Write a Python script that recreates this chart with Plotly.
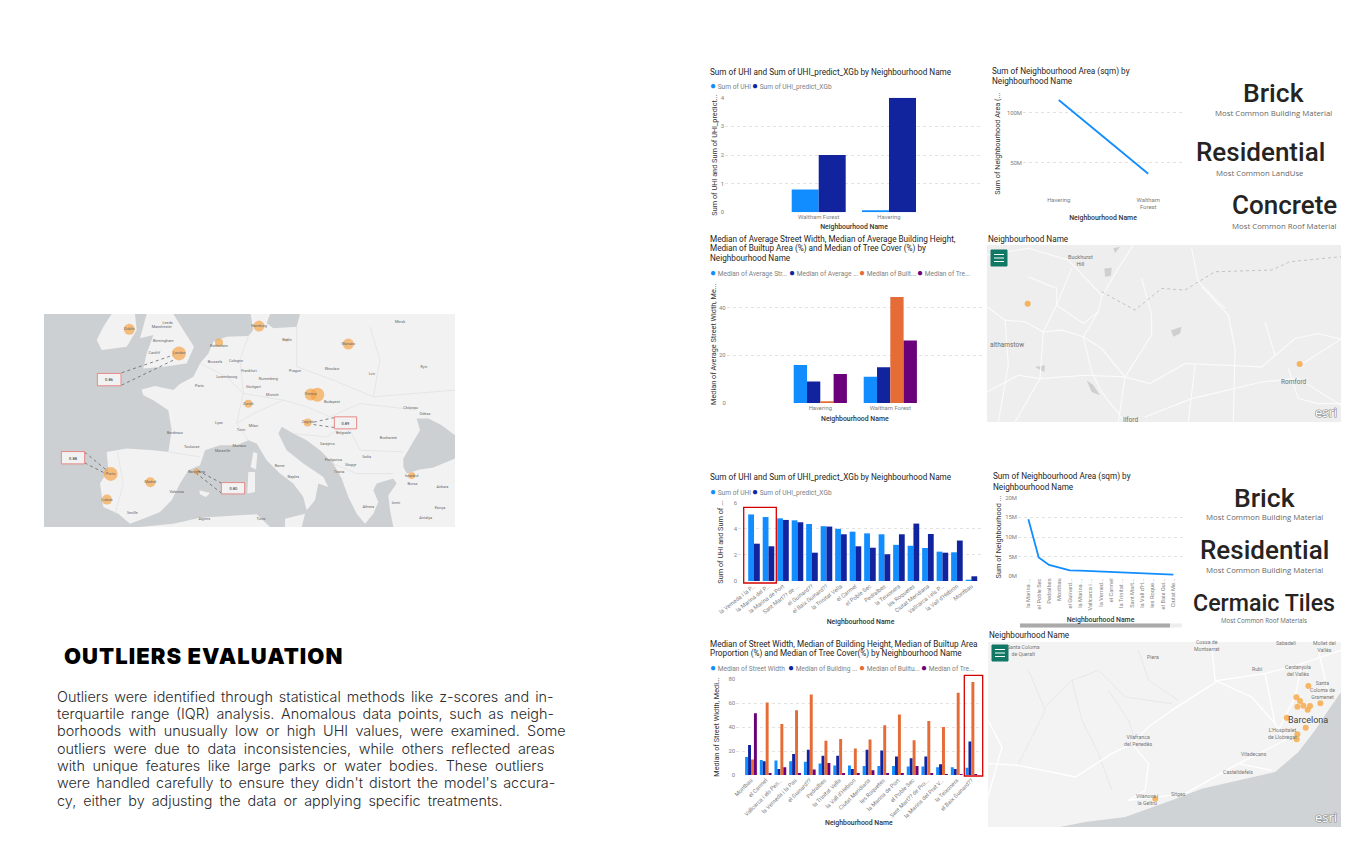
import plotly.graph_objects as go

W, H = 1362, 841
BLUE, NAVY, ORANGE, PURPLE = "#118DFF", "#12239E", "#E66C37", "#6B007B"
DIN = "Roboto, Arial, sans-serif"

# ---------- data ----------
lon_cats = ["Waltham Forest", "Havering"]
lon_uhi = [0.8, 0.07]
lon_pred = [2.0, 4.0]

area_cats = ["Havering", "Waltham<br>Forest"]
area_vals = [112.7e6, 39e6]

med_cats = ["Havering", "Waltham Forest"]
med_street = [16.0, 11.0]
med_height = [9.0, 15.0]
med_built = [0.3, 44.5]
med_tree = [12.2, 26.2]

bcn_cats = ["la Verneda i la P...", "la Marina del P...", "la Marina de Port", "Sant Mart?? de ...",
            "el Guinard??", "el Baix Guinard??", "la Trinitat Vella", "el Carmel", "el Poble Sec",
            "Pedralbes", "la Teixonera", "les Roquetes", "Ciutat Meridiana", "Vallcarca i els P...",
            "la Vall d'Hebron", "Montbau"]
bcn_uhi = [5.1, 4.9, 4.8, 4.65, 4.37, 4.2, 4.0, 3.78, 3.65, 3.58, 2.77, 2.7, 2.53, 2.25, 2.2, 0.08]
bcn_pred = [2.86, 2.66, 4.68, 4.5, 2.17, 4.17, 3.58, 2.66, 2.55, 2.05, 3.58, 4.4, 3.6, 2.17, 3.1, 0.36]

bcn_area_cats = ["la Marina ...", "el Poble Sec", "Pedralbes", "Montbau", "el Guinard...", "la Marina ...\u200b",
                 "Vallcarca i ...", "la Verned...", "el Carmel", "la Trinitat ...", "Sant Mart...",
                 "la Vall d'H...", "les Roque...", "el Baix Gui...", "Ciutat Me..."]
bcn_area = [14.5e6, 4.8e6, 2.9e6, 2.2e6, 1.5e6, 1.45e6, 1.35e6, 1.25e6, 1.1e6, 0.95e6, 0.9e6, 0.85e6, 0.75e6, 0.65e6, 0.45e6]

bm_cats = ["Montbau", "el Carmel", "Vallcarca i els Pen...", "la Verneda i la Pau", "el Guinard??", "Pedralbes",
           "la Trinitat Vella", "la Vall d'Hebron", "Ciutat Meridiana", "les Roquetes", "la Marina de Port",
           "el Poble Sec", "Sant Mart?? de Pro...", "la Marina del Prat V...", "la Teixonera", "el Baix Guinard??"]
bm_street = [15, 12.5, 12, 11.5, 11, 9.5, 8, 8, 7.5, 7.5, 7.5, 7, 7, 6.5, 6.5, 6]
bm_height = [25, 11.5, 5, 17.5, 21, 16, 16, 5, 21, 20.5, 15.5, 14, 15.5, 9, 5, 28]
bm_built = [13, 60.5, 42.5, 54, 67, 28.5, 30, 22, 29.5, 41.5, 50.5, 29, 45, 40, 68.5, 77.5]
bm_tree = [51.5, 1, 6.5, 1, 4.5, 10, 1, 1.5, 4, 1.5, 1, 7.5, 1, 0.5, 0.5, 0.7]

eu_bubble_x = [268, 417, 537, 657, 741, 925, 812, 832, 625, 803, 212, 331, 201, 470, 1115]
eu_bubble_y = [58, 130, 97, 48, 90, 102, 253, 254, 281, 337, 491, 516, 568, 484, 496]
eu_bubble_size = [11, 14, 8, 11, 3, 11, 12, 14, 8, 8, 14, 10, 10, 6, 7]

lon_map_x = [128, 944]
lon_map_y = [216, 396]
bcn_map_x = [970, 934, 945, 937, 955, 968, 975, 1006, 905, 962, 937, 935, 510]
bcn_map_y = [167, 201, 212, 229, 226, 238, 227, 219, 262, 292, 312, 327, 505]

eu_cities = [(268, 58, "Dublin"), (417, 130, "London"), (537, 107, "Rotterdam"), (657, 48, "Hamburg"), (741, 90, "Berlin"),
             (925, 102, "Warsaw"), (812, 253, "Vienna"), (625, 281, "Zurich"), (803, 337, "Zagreb"), (212, 491, "Porto"),
             (331, 516, "Madrid"), (201, 568, "Lisbon"), (470, 484, "Barcelona"), (1115, 496, "Istanbul"),
             (365, 52, "Manchester"), (370, 92, "Birmingham"), (343, 130, "Cardiff"), (383, 40, "Leeds"), (1080, 35, "Minsk"),
             (478, 228, "Paris"), (525, 155, "Brussels"), (588, 152, "Cologne"), (627, 182, "Frankfurt"), (560, 202, "Luxembourg"),
             (640, 232, "Stuttgart"), (697, 255, "Munich"), (685, 207, "Nuremberg"), (765, 184, "Prague"), (876, 177, "Wroclaw"),
             (876, 277, "Budapest"), (537, 338, "Lyon"), (640, 349, "Milan"), (603, 361, "Turin"), (405, 370, "Bordeaux"),
             (455, 411, "Toulouse"), (598, 407, "Monaco"), (548, 422, "Marseille"), (719, 467, "Rome"), (910, 370, "Belgrade"),
             (862, 403, "Sarajevo"), (980, 440, "Sofia"), (1045, 383, "Bucharest"), (1155, 313, "Odesa"), (1112, 295, "Chisinau"),
             (996, 192, "Lviv"), (1152, 170, "Kyiv"), (880, 450, "Podgorica"), (932, 464, "Skopje"), (897, 484, "Tirana"),
             (985, 590, "Athens"), (760, 500, "Naples"), (410, 544, "Valencia"), (277, 607, "Seville"), (493, 626, "Algiers"),
             (663, 625, "Tunis"), (1200, 592, "Konya"), (1207, 530, "Ankara"), (1117, 521, "Bursa"), (1068, 577, "Izmir"), (1157, 622, "Antalya")]

eu_land = {
    "main": [(305, 238), (345, 228), (400, 240), (420, 222), (460, 200), (480, 160), (505, 130), (520, 95), (560, 80), (625, 78),
             (640, 60), (632, 12), (690, 12), (680, 40), (700, 55), (770, 50), (780, 12), (1245, 12), (1245, 375), (1205, 345),
             (1165, 325), (1130, 325), (1140, 360), (1110, 410), (1090, 445), (1090, 470), (1100, 490), (1140, 478), (1180, 472),
             (1245, 445), (1245, 650), (1060, 650), (1050, 600), (1045, 555), (1070, 520), (1060, 505), (1010, 520), (1000, 540),
             (1015, 575), (1000, 610), (975, 640), (950, 610), (925, 560), (905, 505), (880, 460), (840, 420), (800, 390), (760, 370),
             (725, 350), (715, 370), (740, 420), (790, 460), (850, 500), (865, 530), (835, 520), (825, 570), (800, 600), (790, 560),
             (760, 520), (720, 490), (680, 450), (650, 400), (625, 390), (590, 405), (540, 405), (495, 420), (480, 465), (445, 480),
             (420, 520), (395, 570), (360, 605), (310, 625), (270, 640), (235, 610), (190, 590), (180, 520), (205, 480), (200, 425),
             (260, 415), (340, 420), (385, 425), (395, 360), (385, 300), (340, 270), (310, 255)],
    "britain": [(320, 12), (300, 85), (340, 75), (320, 130), (310, 175), (370, 170), (440, 160), (462, 110), (430, 60), (400, 12)],
    "ireland": [(215, 12), (285, 12), (290, 60), (260, 110), (185, 120), (170, 90), (190, 50)],
    "sicily": [(735, 625), (795, 610), (785, 650), (735, 650)],
    "sardinia": [(625, 485), (645, 485), (645, 545), (622, 550)],
    "corsica": [(640, 425), (652, 430), (648, 478), (632, 470)],
    "africa": [(300, 650), (400, 640), (480, 622), (650, 612), (690, 650)],
    "balearic": [(478, 540), (510, 548), (498, 560), (480, 552)],
}
eu_borders = [[(480, 160), (560, 200), (610, 250), (590, 340), (625, 390)], [(625, 78), (600, 150), (610, 250), (730, 270), (800, 290)],
              [(770, 50), (770, 170), (880, 210), (1000, 260), (1020, 150), (990, 50)], [(385, 425), (480, 440)], [(232, 425), (250, 520), (225, 610)],
              [(730, 270), (640, 310), (590, 340)], [(800, 290), (870, 320), (960, 280), (1130, 300)], [(760, 370), (860, 380), (920, 340)],
              [(920, 340), (960, 420), (1090, 425)], [(880, 460), (950, 490), (1060, 490)], [(1245, 240), (1000, 260)]]
eu_boxes = [(172, 190, 243, 227, "0.86", 207, 209), (883, 320, 950, 356, "0.89", 916, 341), (64, 424, 134, 461, "0.88", 99, 446), (544, 517, 614, 551, "0.80", 580, 536)]
eu_links = [[(245, 188), (400, 135)], [(245, 225), (405, 148)], [(883, 322), (812, 338)], [(883, 352), (812, 342)],
            [(134, 426), (200, 480)], [(134, 458), (197, 490)], [(545, 519), (475, 482)], [(545, 549), (470, 490)]]

lon_roads = [[(6, 225), (60, 265), (120, 270), (175, 300), (230, 295), (295, 315), (350, 350), (420, 435), (495, 455), (600, 395), (830, 405), (930, 320), (1000, 305), (1068, 322)],
             [(445, 40), (400, 110), (350, 195), (340, 240), (295, 315), (320, 420), (350, 480), (420, 570)],
             [(260, 110), (215, 220), (175, 300), (165, 440), (90, 570)],
             [(6, 70), (130, 50), (250, 85), (350, 190)],
             [(130, 135), (215, 170), (215, 220), (295, 275), (340, 240)],
             [(650, 165), (730, 250), (750, 350), (745, 570)],
             [(6, 480), (100, 430), (165, 440), (300, 430), (420, 435)],
             [(420, 435), (400, 570)],
             [(470, 140), (500, 250), (500, 310), (420, 435)],
             [(620, 50), (640, 150), (720, 230)],
             [(480, 555), (620, 500), (830, 450), (940, 440), (1068, 520)],
             [(910, 410), (940, 500), (1000, 515), (1068, 515)],
             [(945, 400), (1068, 322)],
             [(630, 400), (610, 570)],
             [(60, 265), (70, 400), (40, 570)],
             [(840, 270), (870, 370)]]
lon_border = [(350, 180), (450, 235), (530, 170), (600, 175), (690, 120), (860, 115), (915, 90), (1068, 75)]
lon_lakes = [[(558, 295), (590, 285), (585, 305), (565, 315)], [(358, 110), (380, 108), (378, 132), (360, 135)],
             [(305, 445), (325, 460), (345, 490), (320, 480)], [(150, 405), (180, 400), (178, 420)], [(385, 50), (405, 45), (390, 65)]]
lon_labels = [(285, 85, "Buckhurst<br>Hill", 5.5), (65, 338, "althamstow", 6.5), (928, 450, "Romford", 6.5), (435, 565, "Ilford", 6.5)]

bcn_sea = [(225, 590), (300, 575), (420, 560), (560, 510), (650, 475), (780, 445), (870, 425), (940, 365), (990, 300), (1030, 240), (1068, 185), (1068, 590)]
bcn_roads = [[(8, 400), (100, 405), (270, 440), (380, 370), (440, 340), (490, 290), (560, 240), (700, 150), (840, 130), (950, 100), (1068, 60)],
             [(440, 340), (490, 400), (480, 480), (430, 510), (600, 490)],
             [(680, 50), (690, 150), (800, 200), (870, 280)],
             [(840, 130), (870, 280), (900, 330), (760, 400), (860, 420)],
             [(8, 270), (50, 350), (8, 500)],
             [(600, 490), (760, 400)],
             [(950, 100), (930, 200), (900, 260), (880, 300)],
             [(1000, 60), (1030, 190)]]
bcn_rivers = [[(180, 230), (260, 150), (340, 120), (420, 200), (560, 220)], [(260, 150), (290, 270), (340, 370), (380, 480)],
              [(460, 60), (490, 150), (580, 210)], [(100, 400), (180, 240), (130, 120)], [(370, 180), (430, 270), (450, 330)]]
bcn_labels = [(115, 62, "Santa Coloma<br>de Queralt", 5.2), (505, 82, "Piera", 5.2), (818, 118, "Rubí", 5.2), (938, 120, "Cerdanyola<br>del Vallès", 5.2),
              (1012, 180, "Santa<br>Coloma de<br>Gramenet", 5.2), (893, 310, "L'Hospitalet<br>de Llobregat", 5.2), (460, 332, "Vilafranca<br>del Penedès", 5.2),
              (808, 373, "Viladecans", 5.2), (760, 425, "Castelldefels", 5.2), (580, 491, "Sitges", 5.2), (487, 507, "Vilanova i<br>la Geltrú", 5.2),
              (665, 45, "Cossa de<br>Montserrat", 5.2), (903, 38, "Sabadell", 5.2), (1018, 48, "Mollet del<br>Vallès", 5.2), (970, 270, "Barcelona", 9)]

body_lines = ["Outliers were identified through statistical methods like z-scores and in-",
              "terquartile range (IQR) analysis. Anomalous data points, such as neigh-",
              "borhoods with unusually low or high UHI values, were examined. Some",
              "outliers were due to data inconsistencies, while others reflected areas",
              "with unique features like large parks or water bodies. These outliers",
              "were handled carefully to ensure they didn't distort the model's accura-",
              "cy, either by adjusting the data or applying specific treatments."]
body_y = [696, 713.3, 730.7, 748.3, 765.3, 782.3, 800]
body_word_gap = [1.9, 2.55, 3.3, 3.5, 3.5, 2.0, 3.0]

# ---------- helpers ----------
fig = go.Figure()
layout = {}
annos = []
shapes = []
axis_no = [0]


def px(x):
    return x / W


def py(y):
    return 1 - y / H


def txt(x, y, s, size=8, color="#252423", anchor="left", family=DIN, weight=None):
    f = dict(size=size, color=color, family=family)
    if weight:
        f["weight"] = weight
    if anchor == "left":
        x -= 1.5
    annos.append(dict(x=px(x), y=py(y), xref="paper", yref="paper", text=s, showarrow=False, xanchor=anchor, yanchor="middle", font=f, align=anchor))


def legend(items, y):
    for x, color, label in items:
        txt(x, y, f'<span style="color:{color};font-size:10px">●</span> {label}', size=6.6, color="#808080")


def new_axes(x0, x1, y0, y1):
    axis_no[0] += 1
    n = "" if axis_no[0] == 1 else str(axis_no[0])
    return n, dict(domain=[px(x0), px(x1)], anchor="y" + n), dict(domain=[py(y1), py(y0)], anchor="x" + n)


def chart(x0, x1, y0, y1, xrange, yrange, cats, yvals, ytitle, xtitle, yticktext=None, tickangle=0, stand=(4, 2), tickfont=5.9):
    n, xa, ya = new_axes(x0, x1, y0, y1)
    xa.update(type="category", categoryorder="array", categoryarray=cats, range=xrange, showgrid=False, zeroline=False, showline=False,
              tickangle=tickangle, ticks="", tickfont=dict(size=tickfont, color="#808080", family=DIN),
              title=dict(text=xtitle, font=dict(size=6.9, color="#333333", family=DIN, weight=500), standoff=stand[1]), automargin=False)
    ya.update(range=yrange, tickvals=yvals, ticktext=yticktext, showgrid=True, gridcolor="#E3E3E3", griddash="dot", gridwidth=1, zeroline=False,
              showline=False, ticks="", tickfont=dict(size=5.9, color="#808080", family=DIN),
              title=dict(text=ytitle, font=dict(size=7.3, color="#333333", family=DIN), standoff=stand[0]), automargin=False)
    layout["xaxis" + n] = xa
    layout["yaxis" + n] = ya
    return n


def bars(n, cats, series, width):
    count = len(series)
    for i, (name, color, vals) in enumerate(series):
        fig.add_trace(go.Bar(x=cats, y=vals, name=name, marker=dict(color=color, line=dict(width=0)), width=width,
                             offset=-width * count / 2 + i * width, xaxis="x" + n, yaxis="y" + n, showlegend=False))


def rbox(x0, y0, x1, y1):
    shapes.append(dict(type="rect", xref="paper", yref="paper", x0=px(x0), x1=px(x1), y0=py(y1), y1=py(y0), line=dict(color="#D40000", width=1.3)))


def map_axes(x0, x1, y0, y1, xr, yr, bg):
    n, xa, ya = new_axes(x0, x1, y0, y1)
    xa.update(range=xr, visible=False, fixedrange=True)
    ya.update(range=yr, visible=False, fixedrange=True)
    layout["xaxis" + n] = xa
    layout["yaxis" + n] = ya
    shapes.append(dict(type="rect", xref="paper", yref="paper", x0=px(x0), x1=px(x1), y0=py(y1), y1=py(y0), fillcolor=bg, line=dict(width=0), layer="below"))
    return n


def poly(n, pts, color):
    xs = [p[0] for p in pts] + [pts[0][0]]
    ys = [p[1] for p in pts] + [pts[0][1]]
    fig.add_trace(go.Scatter(x=xs, y=ys, mode="lines", fill="toself", fillcolor=color, line=dict(width=0), hoverinfo="skip", showlegend=False, xaxis="x" + n, yaxis="y" + n))


def pline(n, pts, color, width=1, dash="solid"):
    fig.add_trace(go.Scatter(x=[p[0] for p in pts], y=[p[1] for p in pts], mode="lines", line=dict(color=color, width=width, dash=dash),
                             hoverinfo="skip", showlegend=False, xaxis="x" + n, yaxis="y" + n))


def menu(x, y):
    shapes.append(dict(type="rect", xref="paper", yref="paper", x0=px(x), x1=px(x + 16), y0=py(y + 16), y1=py(y), fillcolor="#117865", line=dict(color="#117865", width=1)))
    for dy in (4.5, 8, 11.5):
        shapes.append(dict(type="line", xref="paper", yref="paper", x0=px(x + 3), x1=px(x + 13), y0=py(y + dy), y1=py(y + dy), line=dict(color="white", width=1)))


def esri(x, y):
    txt(x, y, '<span style="paint-order:stroke;stroke:#8C8C8C;stroke-width:1.2px">esri</span>', size=13, color="#FFFFFF", anchor="center", family="Open Sans")


# ---------- left column ----------
n = map_axes(44, 455, 314, 527, [12, 1245], [650, 12], "#CCD0D2")
for pts in eu_land.values():
    poly(n, pts, "#F2F2F2")
for pts in eu_borders:
    pline(n, pts, "#E2E2E2", 0.8)
fig.add_trace(go.Scatter(x=eu_bubble_x, y=eu_bubble_y, mode="markers", marker=dict(size=eu_bubble_size, color="rgba(247,160,60,0.92)", line=dict(width=0)),
                         hoverinfo="skip", showlegend=False, xaxis="x" + n, yaxis="y" + n))
fig.add_trace(go.Scatter(x=[c[0] for c in eu_cities], y=[c[1] for c in eu_cities], text=[c[2] for c in eu_cities], mode="text",
                         textfont=dict(size=3.8, color="#666666", family=DIN), hoverinfo="skip", showlegend=False, xaxis="x" + n, yaxis="y" + n))
for pts in eu_links:
    pline(n, pts, "#555555", 0.7, "dot")
for bx0, by0, bx1, by1, label, lx, ly in eu_boxes:
    poly(n, [(bx0, by0), (bx1, by0), (bx1, by1), (bx0, by1)], "#F2F2F2")
    pline(n, [(bx0, by0), (bx1, by0), (bx1, by1), (bx0, by1), (bx0, by0)], "#E88888", 1)
fig.add_trace(go.Scatter(x=[b[5] for b in eu_boxes], y=[b[6] for b in eu_boxes], text=[b[4] for b in eu_boxes], mode="text",
                         textfont=dict(size=4, color="#222222", family=DIN), hoverinfo="skip", showlegend=False, xaxis="x" + n, yaxis="y" + n))

txt(63, 656, '<span style="letter-spacing:1.05px">OUTLIERS EVALUATION</span>', size=22, color="#000000", family="Inter, Arial, sans-serif", weight=900)
for line, yy, gap in zip(body_lines, body_y, body_word_gap):
    txt(56, yy, f'<span style="word-spacing:{gap}px">{line}</span>', size=14.4, color="#2B2B2B", family="Inter, Arial, sans-serif", weight=300)

# ---------- chart 1: London UHI ----------
txt(709, 71.7, "Sum of UHI and Sum of UHI_predict_XGb by Neighbourhood Name", size=8.2)
legend([(709, BLUE, "Sum of UHI"), (751.5, NAVY, "Sum of UHI_predict_XGb")], 86)
n = chart(725, 983, 97.7, 212.3, [-1.333, 2.337], [0, 4], lon_cats, [0, 1, 2, 3, 4], "Sum of UHI and Sum of UHI_predict...", "Neighbourhood Name", stand=(2, 4.5))
bars(n, lon_cats, [("Sum of UHI", BLUE, lon_uhi), ("Sum of UHI_predict_XGb", NAVY, lon_pred)], 0.384)

# ---------- chart 2: London area ----------
txt(991.7, 71.7, "Sum of Neighbourhood Area (sqm) by", size=8.2)
txt(991.7, 81.5, "Neighbourhood Name", size=8.2)
n = chart(1023, 1183, 92.7, 194.7, [-0.40, 1.389], [18e6, 120e6], area_cats, [50e6, 100e6], "Sum of Neighbourhood Area (...", "Neighbourhood Name", yticktext=["50M", "100M"], stand=(5, 5.5))
fig.add_trace(go.Scatter(x=area_cats, y=area_vals, mode="lines", line=dict(color=BLUE, width=1.8), showlegend=False, xaxis="x" + n, yaxis="y" + n))

# ---------- KPI cards ----------
for x, y, s, sz, sy, sub, ss in [
    (1273, 92.7, "Brick", 26.5, 113.5, "Most Common Building Material", 7.8),
    (1260, 151.7, "Residential", 26, 172.7, "Most Common LandUse", 7.8),
    (1284, 205, "Concrete", 26, 225.7, "Most Common Roof Material", 7.8),
    (1264, 497, "Brick", 26.5, 517.3, "Most Common Building Material", 7.8),
    (1264, 550, "Residential", 26, 570.3, "Most Common Building Material", 7.8),
    (1263.7, 602.7, "Cermaic Tiles", 23.2, 620.7, "Most Common Roof Materials", 6.2),
]:
    txt(x, y, s, size=sz, color="#252423", anchor="center", weight=500)
    txt(x, sy, sub, size=ss, color="#666666", anchor="center", family="Open Sans")

# ---------- chart 3: London medians ----------
for yy, s in [(239.3, "Median of Average Street Width, Median of Average Building Height,"),
              (248.7, "Median of Builtup Area (%) and Median of Tree Cover (%) by"),
              (258, "Neighbourhood Name")]:
    txt(709, yy, s, size=8.2)
legend([(709, BLUE, "Median of Average Str..."), (788, NAVY, "Median of Average ..."), (859, ORANGE, "Median of Built..."), (917, PURPLE, "Median of Tre...")], 272.3)
n = chart(726.7, 983, 285.3, 403, [-1.337, 2.324], [0, 49.4], med_cats, [0, 20, 40], "Median of Average Street Width, Me...", "Neighbourhood Name", stand=(1, 6))
bars(n, med_cats, [("Street", BLUE, med_street), ("Height", NAVY, med_height), ("Built", ORANGE, med_built), ("Tree", PURPLE, med_tree)], 0.19)

# ---------- map: London ----------
txt(987.6, 238.7, "Neighbourhood Name", size=8.2)
n = map_axes(987, 1341, 245, 422, [6, 1068], [570, 40], "#EEEEEE")
for pts in lon_lakes:
    poly(n, pts, "#CFCFCF")
for pts in lon_roads:
    pline(n, pts, "#FBFBFB", 1.1)
pline(n, lon_border, "#AFAFAF", 0.7, "dot")
fig.add_trace(go.Scatter(x=lon_map_x, y=lon_map_y, mode="markers", marker=dict(size=6, color="#F7B25E", line=dict(width=0)), showlegend=False, hoverinfo="skip", xaxis="x" + n, yaxis="y" + n))
for lx, ly, s, sz in lon_labels:
    txt(985 + lx / 3, 232 + ly / 3, s, size=sz, color="#6E6E6E", anchor="center")
menu(991, 250)
esri(1326, 412)

# ---------- chart 5: Barcelona UHI ----------
txt(709.5, 476.7, "Sum of UHI and Sum of UHI_predict_XGb by Neighbourhood Name", size=8.2)
legend([(709, BLUE, "Sum of UHI"), (751.5, NAVY, "Sum of UHI_predict_XGb")], 491.5)
n = chart(738, 983, 502.7, 581, [-1.104, 15.8], [0, 6], bcn_cats, [0, 2, 4, 6], "Sum of UHI and Sum of ...", "Neighbourhood Name", tickangle=-38, stand=(9, 4.5), tickfont=5.7)
bars(n, bcn_cats, [("Sum of UHI", BLUE, bcn_uhi), ("Sum of UHI_predict_XGb", NAVY, bcn_pred)], 0.40)
rbox(743.7, 507.3, 776.3, 583)

# ---------- chart 6: Barcelona area ----------
txt(992.7, 477, "Sum of Neighbourhood Area (sqm) by", size=8.2)
txt(992.7, 487, "Neighbourhood Name", size=8.2)
n = chart(1018, 1183, 497.7, 576.3, [-1.0, 14.93], [0, 20e6], bcn_area_cats, [0, 5e6, 10e6, 15e6, 20e6], "Sum of Neighbourhood ...", "Neighbourhood Name",
          yticktext=["0M", "5M", "10M", "15M", "20M"], tickangle=-90, tickfont=5.7, stand=(2, 7))
fig.add_trace(go.Scatter(x=bcn_area_cats, y=bcn_area, mode="lines", line=dict(color=BLUE, width=1.8), showlegend=False, xaxis="x" + n, yaxis="y" + n))
shapes.append(dict(type="rect", xref="paper", yref="paper", x0=px(1020), x1=px(1182), y0=py(627.5), y1=py(623.5), fillcolor="#EEEEEE", line=dict(width=0)))
shapes.append(dict(type="rect", xref="paper", yref="paper", x0=px(1020), x1=px(1170), y0=py(627.5), y1=py(623.5), fillcolor="#AAAAAA", line=dict(width=0)))

# ---------- chart 7: Barcelona medians ----------
txt(709.5, 644, "Median of Street Width, Median of Building Height, Median of Builtup Area", size=8.2)
txt(709.5, 653.7, "Proportion (%) and Median of Tree Cover(%) by Neighbourhood Name", size=8.2)
legend([(709, BLUE, "Median of Street Width"), (787, NAVY, "Median of Building ..."), (858.5, ORANGE, "Median of Builtu..."), (920.5, PURPLE, "Median of Tre...")], 667.7)
n = chart(736, 981.7, 679, 775, [-1.02, 15.70], [0, 80], bm_cats, [0, 20, 40, 60, 80], "Median of Street Width, Medi...", "Neighbourhood Name", tickangle=-45, tickfont=5.7, stand=(7, 1))
bars(n, bm_cats, [("Street", BLUE, bm_street), ("Height", NAVY, bm_height), ("Built", ORANGE, bm_built), ("Tree", PURPLE, bm_tree)], 0.2)
rbox(964.3, 675.3, 982.7, 776)

# ---------- map: Barcelona ----------
txt(988, 635, "Neighbourhood Name", size=8.2)
n = map_axes(988, 1341, 642, 827, [8, 1068], [590, 35], "#F3F3F3")
poly(n, bcn_sea, "#CFD3D5")
for pts in bcn_rivers:
    pline(n, pts, "#E2E2E2", 0.7)
for pts in bcn_roads:
    pline(n, pts, "#FFFFFF", 1.3)
fig.add_trace(go.Scatter(x=bcn_map_x, y=bcn_map_y, mode="markers", marker=dict(size=6, color="rgba(246,175,85,0.9)", line=dict(width=0)), showlegend=False, hoverinfo="skip", xaxis="x" + n, yaxis="y" + n))
for lx, ly, s, sz in bcn_labels:
    txt(985 + lx / 3, 630 + ly / 3, s, size=sz, color="#444444" if sz > 8 else "#777777", anchor="center")
menu(992, 645)
esri(1326, 817)

fig.update_layout(width=W, height=H, margin=dict(l=0, r=0, t=0, b=0), paper_bgcolor="white", plot_bgcolor="rgba(0,0,0,0)", showlegend=False,
                  annotations=annos, shapes=shapes, **layout)
fig.write_html("out.html", config={"displayModeBar": False}, post_script="document.body.style.margin='0';document.body.style.overflow='hidden';")
